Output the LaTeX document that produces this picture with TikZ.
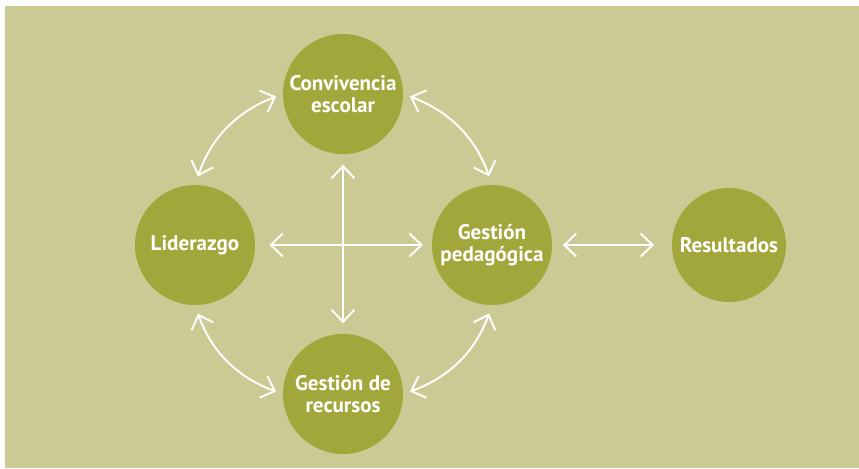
\documentclass[tikz,border=0pt]{standalone}
\usepackage{fontspec}
\setmainfont{PT Sans}
\usetikzlibrary{arrows.meta}
\definecolor{fondo}{RGB}{204,202,148}
\definecolor{oliva}{RGB}{161,167,58}

\tikzset{
  area/.style={circle,fill=oliva,minimum size=2.4cm,inner sep=0pt,text=white,
    font=\bfseries\fontsize{12}{12.5}\selectfont,align=center},
  punta/.tip={Straight Barb[length=2.4mm,width=4.6mm]},
  flecha/.style={white,line width=1.1pt,punta-punta},
}

\begin{document}
\begin{tikzpicture}[x=0.02cm,y=-0.02cm]

\useasboundingbox (0,0) rectangle (859,468);
\fill[fondo] (5,6) rectangle (859,468);

    \node[area] (conv) at (343,94) {Convivencia\\escolar};
    \node[area] (lid) at (195,245) {Liderazgo};
    \node[area] (ped) at (492,245) {Gestión\\pedagógica};
    \node[area] (rec) at (343,394) {Gestión de\\recursos};
    \node[area,minimum size=2.28cm] (res) at (729,245) {Resultados};

    \draw[flecha,shorten <=8pt,shorten >=5pt] (lid.east) -- (ped.west);
    \draw[flecha,shorten <=6pt,shorten >=6pt] (conv.south) -- (rec.north);
    \draw[flecha,shorten <=6pt,shorten >=10pt] (ped.east) -- (res.west);

    \draw[flecha,shorten <=5pt,shorten >=4pt] (lid.north) to[bend left=25] (conv.west);
    \draw[flecha,shorten <=4pt,shorten >=5pt] (conv.east) to[bend left=25] (ped.north);
    \draw[flecha,shorten <=5pt,shorten >=4pt] (ped.south) to[bend left=25] (rec.east);
    \draw[flecha,shorten <=4pt,shorten >=5pt] (rec.west) to[bend left=25] (lid.south);

\end{tikzpicture}
\end{document}
